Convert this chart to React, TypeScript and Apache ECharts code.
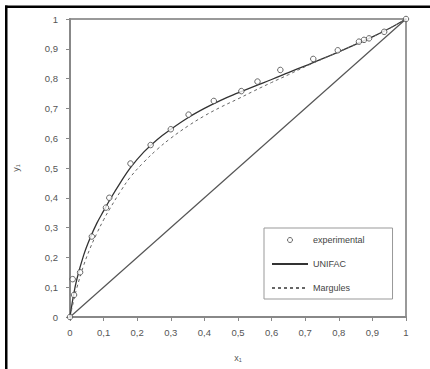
import React, { useEffect, useRef } from "react";
import * as echarts from "echarts";

const expX = [0, 0.008, 0.012, 0.03, 0.065, 0.107, 0.117, 0.18, 0.24, 0.3, 0.353, 0.428, 0.51, 0.558, 0.626, 0.724, 0.797, 0.86, 0.875, 0.89, 0.935, 1];
const expY = [0, 0.127, 0.074, 0.15, 0.27, 0.367, 0.4, 0.515, 0.577, 0.63, 0.679, 0.725, 0.758, 0.79, 0.829, 0.866, 0.895, 0.924, 0.93, 0.935, 0.957, 1];

const curveX = [0, 0.01, 0.02, 0.04, 0.06, 0.08, 0.1, 0.12, 0.15, 0.18, 0.22, 0.26, 0.3, 0.35, 0.4, 0.45, 0.5, 0.55, 0.6, 0.65, 0.7, 0.75, 0.8, 0.85, 0.9, 0.95, 1];
const unifacY = [0, 0.07, 0.125, 0.205, 0.265, 0.315, 0.356, 0.396, 0.451, 0.501, 0.554, 0.596, 0.63, 0.668, 0.7, 0.728, 0.752, 0.775, 0.797, 0.82, 0.843, 0.866, 0.89, 0.915, 0.94, 0.968, 1];
const margulesY = [0, 0.05, 0.096, 0.171, 0.231, 0.281, 0.326, 0.366, 0.421, 0.47, 0.52, 0.563, 0.6, 0.64, 0.675, 0.705, 0.732, 0.76, 0.787, 0.813, 0.84, 0.865, 0.89, 0.915, 0.94, 0.968, 1];

const diagX = [0, 1];
const diagY = [0, 1];

const seriesNames = ["experimental", "UNIFAC", "Margules"];
const xName = "x\u2081";
const yName = "y\u2081";

const zip = (a: number[], b: number[]) => a.map((v, i) => [v, b[i]]);
const fmt = (v: number) => String(Math.round(v * 10) / 10).replace(".", ",");

export default function App() {
  const ref = useRef<HTMLDivElement>(null);
  useEffect(() => {
    if (!ref.current) return;
    const chart = echarts.init(ref.current, null, { renderer: "svg" });
    const font = "Liberation Sans, Arial, sans-serif";
    const axisCommon = {
      type: "value",
      min: 0,
      max: 1,
      interval: 0.1,
      splitLine: { show: false },
      axisLine: { show: true, lineStyle: { color: "#888", width: 2 } },
      axisTick: { show: true, inside: false, length: 4, lineStyle: { color: "#888", width: 1 } },
      nameLocation: "middle",
      nameTextStyle: { fontSize: 9, color: "#555", fontFamily: font },
    };
    chart.setOption({
      animation: false,
      backgroundColor: "#fff",
      grid: {
        left: 70,
        top: 19,
        width: 336,
        height: 298,
        show: true,
        borderColor: "#999",
        borderWidth: 2,
      },
      xAxis: {
        ...axisCommon,
        name: xName,
        nameGap: 36,
        axisLabel: { formatter: fmt, fontSize: 9.5, color: "#555", margin: 10, fontFamily: font },
      },
      yAxis: {
        ...axisCommon,
        name: yName,
        nameGap: 50,
        nameRotate: 90,
        axisLabel: { formatter: fmt, fontSize: 9.5, color: "#555", margin: 12, fontFamily: font },
      },
      legend: {
        data: [
          { name: seriesNames[0], itemStyle: { borderWidth: 1, borderColor: "#444", color: "#fff" } },
          { name: seriesNames[1], itemStyle: { opacity: 0 } },
          { name: seriesNames[2], itemStyle: { opacity: 0 } },
        ],
        orient: "vertical",
        left: 264,
        top: 228,
        padding: [6, 28, 5, 7],
        itemWidth: 36,
        itemHeight: 5,
        itemGap: 12,
        borderColor: "#999",
        borderWidth: 1,
        backgroundColor: "#fff",
        textStyle: { fontSize: 9, color: "#444", lineHeight: 12, fontFamily: font },
      },
      graphic: [
        { type: "rect", shape: { x: 5, y: 5.5, width: 425, height: 2.5 }, style: { fill: "#000" } },
        { type: "rect", shape: { x: 5, y: 5.5, width: 2.5, height: 364 }, style: { fill: "#000" } },
      ],
      series: [
        {
          name: "diagonal",
          type: "line",
          data: zip(diagX, diagY),
          symbol: "none",
          lineStyle: { color: "#555", width: 1.2 },
          z: 1,
        },
        {
          name: "UNIFAC",
          type: "line",
          data: zip(curveX, unifacY),
          symbol: "none",
          smooth: 0.4,
          lineStyle: { color: "#333", width: 1.3 },
          itemStyle: { color: "#333" },
          z: 2,
        },
        {
          name: "Margules",
          type: "line",
          data: zip(curveX, margulesY),
          symbol: "none",
          smooth: 0.4,
          lineStyle: { color: "#666", width: 1, type: [3, 3] },
          itemStyle: { color: "#666" },
          z: 2,
        },
        {
          name: "experimental",
          type: "scatter",
          data: zip(expX, expY),
          symbol: "circle",
          symbolSize: 5.5,
          itemStyle: { color: "#fff", borderColor: "#444", borderWidth: 1 },
          z: 3,
        },
      ],
    });
    return () => chart.dispose();
  }, []);
  return (
    <div
      ref={ref}
      style={{ position: "fixed", left: 0, top: 0, width: 430, height: 369 }}
    />
  );
}
